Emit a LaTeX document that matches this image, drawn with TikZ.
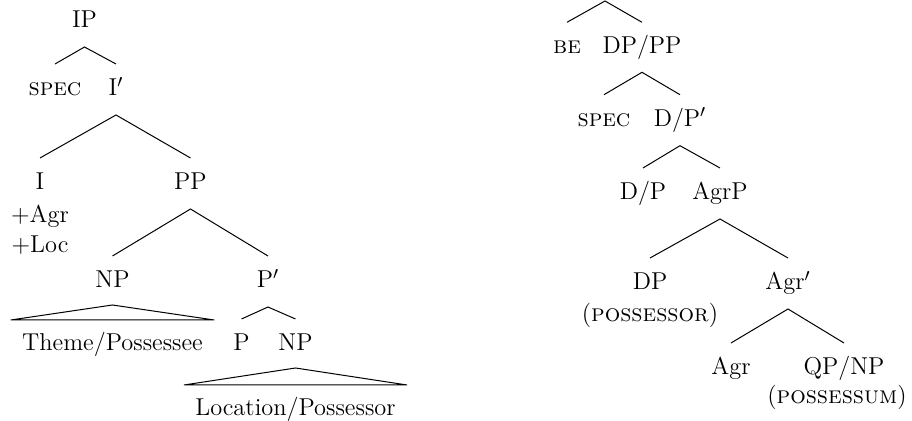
\documentclass[tikz,border=0pt]{standalone}
\usetikzlibrary{calc}
% a branching node: two straight edges from the parent down to both daughters
\newcommand\treebranch[3]{%
  \draw[edge] ($(#2.base)+(0,-32)$) -- ($(#1.base)+(0,19)$) -- ($(#3.base)+(0,-32)$);}
% a roof (triangle) over an unanalysed constituent
\newcommand\treeroof[2]{%
  \draw[edge] ($(#2.base west)+(-11,-31)$) -- ($(#1.base)+(0,17)$) -- ($(#2.base east)+(11,-31)$) -- cycle;}
\begin{document}
\begin{tikzpicture}[x=0.5pt,y=-0.5pt,
  lbl/.style={anchor=base,inner sep=0pt,font=\fontsize{12.2}{14}\selectfont},
  edge/.style={line width=0.5pt,line join=miter}]
\useasboundingbox (0,0) rectangle (912,421);

% ---- locative tree ----
\node[lbl] (IP)    at (84.5,28)  {IP};
\node[lbl] (spec1) at (55,96)    {\textsc{spec}};
\node[lbl] (Ibar)  at (116,96)   {I$'$};
\node[lbl] (I)     at (40,190)   {I};
\node[lbl] (Iagr)  at (40,222.7) {+Agr};
\node[lbl] (Iloc)  at (40,253)   {+Loc};
\node[lbl] (PP)    at (190.5,190){PP};
\node[lbl] (NPa)   at (112.5,288){NP};
\node[lbl] (Pbar)  at (268,288)  {P$'$};
\node[lbl] (theme) at (112.5,351){Theme/Possessee};
\node[lbl] (P)     at (241.5,351){P};
\node[lbl] (NPb)   at (295.5,351){NP};
\node[lbl] (loc)   at (295.5,416){Location/Possessor};

\treebranch{IP}{spec1}{Ibar}
\treebranch{Ibar}{I}{PP}
\treebranch{PP}{NPa}{Pbar}
\treeroof{NPa}{theme}
\treebranch{Pbar}{P}{NPb}
\treeroof{NPb}{loc}

% ---- possessive tree ----
\coordinate (top) at (605,1);
\node[lbl] (be)     at (567,53.3)  {\textsc{be}};
\node[lbl] (DPPP)   at (642,53.3)  {DP/PP};
\node[lbl] (spec2)  at (604,126.7) {\textsc{spec}};
\node[lbl] (DPbar)  at (680,126.7) {D/P$'$};
\node[lbl] (DPhead) at (643,200)   {D/P};
\node[lbl] (AgrP)   at (720,200)   {AgrP};
\node[lbl] (DPspec) at (650,290)   {DP};
\node[lbl] (possor) at (650,321.7) {(\textsc{possessor})};
\node[lbl] (Agrbar) at (788,290)   {Agr$'$};
\node[lbl] (Agr)    at (731,375)   {Agr};
\node[lbl] (QPNP)   at (844,375)   {QP/NP};
\node[lbl] (possum) at (837,403.3) {(\textsc{possessum})};

\draw[edge] ($(be.base)+(0,-31)$) -- (top) -- ($(DPPP.base)+(0,-31)$);
\treebranch{DPPP}{spec2}{DPbar}
\treebranch{DPbar}{DPhead}{AgrP}
\treebranch{AgrP}{DPspec}{Agrbar}
\treebranch{Agrbar}{Agr}{QPNP}
\end{tikzpicture}
\end{document}
